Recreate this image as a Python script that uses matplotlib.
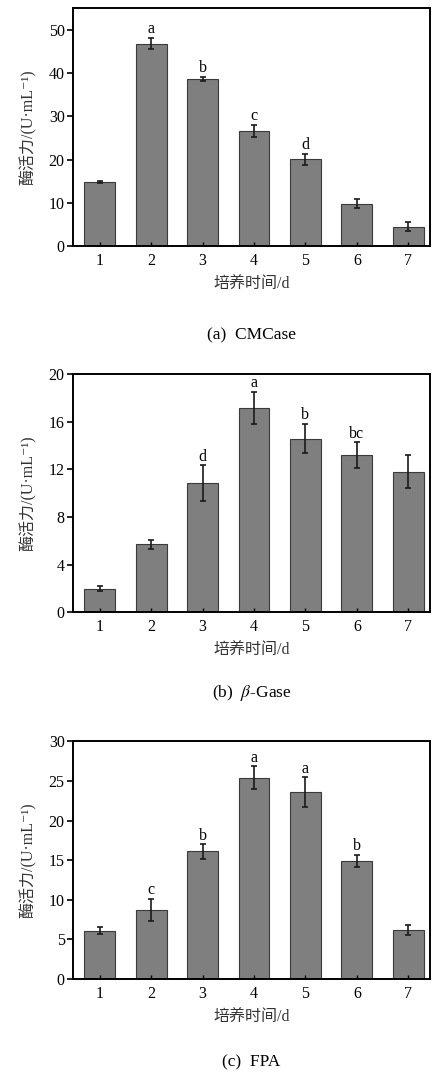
import matplotlib
matplotlib.use("Agg")
import matplotlib.pyplot as plt
import numpy as np

plt.rcParams['font.family'] = ['Liberation Serif', 'Noto Sans CJK SC', 'DejaVu Serif']
plt.rcParams['mathtext.fontset'] = 'stix'

days = [1, 2, 3, 4, 5, 6, 7]
day_labels = ['1', '2', '3', '4', '5', '6', '7']

# (a) CMCase
cmcase = [14.8, 46.8, 38.6, 26.6, 20.1, 9.8, 4.5]
cmcase_err = [0.3, 1.3, 0.5, 1.4, 1.3, 1.0, 1.0]
cmcase_sig = ['', 'a', 'b', 'c', 'd', '', '']

# (b) beta-Gase
bgase = [1.95, 5.7, 10.85, 17.2, 14.6, 13.2, 11.8]
bgase_err = [0.2, 0.4, 1.5, 1.35, 1.25, 1.07, 1.38]
bgase_sig = ['', '', 'd', 'a', 'b', 'bc', '']

# (c) FPA
fpa = [6.1, 8.7, 16.1, 25.4, 23.6, 14.9, 6.2]
fpa_err = [0.45, 1.4, 0.9, 1.45, 1.85, 0.75, 0.6]
fpa_sig = ['', 'c', 'b', 'a', 'a', 'b', '']

# values, errors, letters, y max, y ticks, caption, axes bottom, caption offset
panels = [
    (cmcase, cmcase_err, cmcase_sig, 55, [0, 10, 20, 30, 40, 50], '(a)  CMCase', 0.7707, -0.374),
    (bgase, bgase_err, bgase_sig, 20, [0, 4, 8, 12, 16, 20], r'(b)  $\mathit{\beta}$-Gase', 0.4296, -0.34),
    (fpa, fpa_err, fpa_sig, 30, [0, 5, 10, 15, 20, 25, 30], '(c)  FPA', 0.0876, -0.35),
]

fig = plt.figure(figsize=(4.32, 10.73), dpi=100)

for vals, errs, sig, ytop, yticks, caption, bottom, cap_y in panels:
    ax = fig.add_axes([0.169, bottom, 0.826, 0.2215])
    ax.bar(days, vals, width=0.6, color='#7f7f7f', edgecolor='#3a3a3a', linewidth=0.8)
    ax.errorbar(days, vals, yerr=errs, fmt='none', ecolor='#1a1a1a',
                elinewidth=1.2, capsize=2.5, capthick=1.2)
    for x, v, e, s in zip(days, vals, errs, sig):
        if s:
            ax.text(x, v + e + ytop * 0.003, s, ha='center', va='bottom', fontsize=11.5)
    ax.set_xlim(0.48, 7.42)
    ax.set_ylim(0, ytop)
    ax.set_xticks(days)
    ax.set_xticklabels(day_labels, fontsize=11.5)
    ax.set_yticks(yticks)
    ax.tick_params(axis='y', direction='out', length=4, width=1.2, labelsize=11.5, pad=2)
    ax.tick_params(axis='x', direction='in', length=3, width=1.0, labelsize=11.5, pad=5)
    ax.set_ylabel('酶活力/(U·mL⁻¹)', fontsize=11.5, color='#333333', labelpad=9)
    ax.set_xlabel('培养时间/d', fontsize=11.5, color='#333333', labelpad=6)
    for sp in ax.spines.values():
        sp.set_linewidth(1.4)
    ax.text(0.5, cap_y, caption, transform=ax.transAxes, ha='center', va='center', fontsize=12.5)

fig.savefig('out.png', dpi=100)
